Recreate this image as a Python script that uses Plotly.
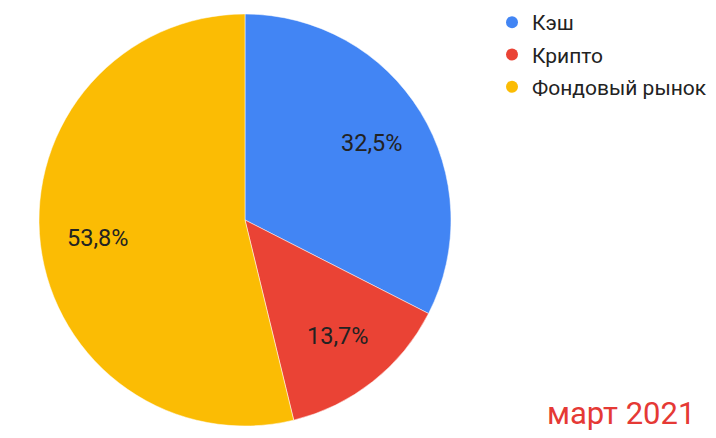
import math
import plotly.graph_objects as go

labels = ["Кэш", "Крипто", "Фондовый рынок"]
values = [32.5, 13.7, 53.8]
colors = ["#4285F4", "#EA4335", "#FBBC04"]
caption = "март 2021"

W, H = 716, 438
# pie domain in pixels
px0, px1 = 39, 451
py_top, py_bot = 14, 426
dom_x = [px0 / W, px1 / W]
dom_y = [(H - py_bot) / H, (H - py_top) / H]

fig = go.Figure()
fig.add_trace(go.Pie(
    labels=labels, values=values, sort=False, direction="clockwise", rotation=0,
    marker=dict(colors=colors, line=dict(color="white", width=0.5)),
    textinfo="none", domain=dict(x=dom_x, y=dom_y),
    showlegend=False, hoverinfo="label+percent",
))
for lab, col in zip(labels, colors):
    fig.add_trace(go.Scatter(x=[None], y=[None], mode="markers", name=lab, legendgroup=lab,
                             marker=dict(symbol="circle", size=13, color=col)))

# slice labels placed along mid-angle at ~0.71 R (as in Google Charts)
total = sum(values)
cx = (dom_x[0] + dom_x[1]) / 2
cy = (dom_y[0] + dom_y[1]) / 2
R_px = (px1 - px0) / 2
annotations = []
cum = 0.0
for v in values:
    mid = (cum + v / 2) / total * 2 * math.pi
    cum += v
    rr = 0.72 * R_px
    dx = rr * math.sin(mid) / W
    dy = rr * math.cos(mid) / H
    txt = f"{v / total * 100:.1f}%".replace(".", ",")
    annotations.append(dict(text=txt, x=cx + dx, y=cy + dy, xref="paper", yref="paper",
                            xanchor="center", yanchor="middle", showarrow=False,
                            font=dict(family="Roboto", size=23.5, color="#222222")))
annotations.append(dict(text=caption, x=697 / W, y=(H - 413) / H, xref="paper", yref="paper",
                        xanchor="right", yanchor="middle", showarrow=False,
                        font=dict(family="Roboto", size=31, color="#E53935")))

fig.update_layout(
    width=W, height=H, margin=dict(l=0, r=0, t=0, b=0),
    paper_bgcolor="white", plot_bgcolor="white", separators=", ",
    xaxis=dict(visible=False), yaxis=dict(visible=False),
    legend=dict(x=492 / W, y=1 - 2 / H, xanchor="left", yanchor="top",
                font=dict(family="Roboto", size=21, color="#222222"),
                itemsizing="constant", tracegroupgap=2),
    annotations=annotations,
)
fig.write_html("out.html", config={"displayModeBar": False},
               post_script="document.body.style.margin='0';")
